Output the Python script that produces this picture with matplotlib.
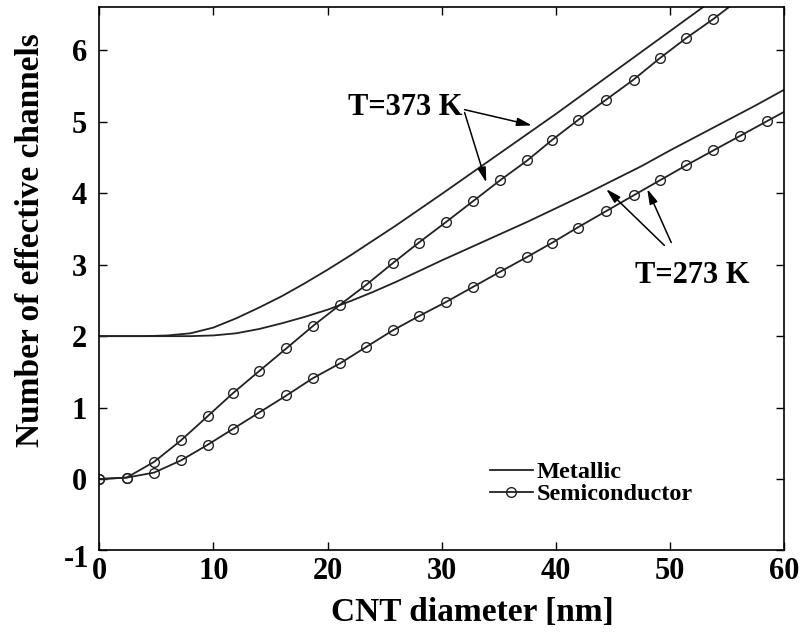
import matplotlib
matplotlib.use("Agg")
import matplotlib.pyplot as plt

# CNT diameter (nm) for the semiconducting samples
semi_d = [0, 2.4, 4.8, 7.15, 9.5, 11.7, 14.0, 16.4, 18.7, 21.1, 23.4, 25.7, 28.0,
          30.4, 32.75, 35.1, 37.5, 39.7, 41.9, 44.4, 46.8, 49.1, 51.4, 53.8,
          56.1, 58.5, 60.8]
semi_373 = [0, 0.02, 0.24, 0.54, 0.88, 1.20, 1.51, 1.83, 2.14, 2.44, 2.72, 3.02,
            3.31, 3.60, 3.89, 4.18, 4.46, 4.75, 5.02, 5.31, 5.59, 5.89, 6.17,
            6.44, 6.72, 7.00, 7.28]
semi_273 = [0, 0.02, 0.09, 0.26, 0.48, 0.70, 0.93, 1.17, 1.41, 1.62, 1.85, 2.08,
            2.28, 2.48, 2.69, 2.90, 3.11, 3.31, 3.52, 3.75, 3.97, 4.18, 4.39,
            4.60, 4.80, 5.01, 5.21]

# Metallic tubes
met_d = [0, 4, 6, 8, 10, 12, 14, 16, 18, 20, 22, 24, 26, 28, 30, 32.5, 35,
         37.5, 40, 42.5, 45, 47.5, 50, 52.5, 55, 57.5, 60]
met_373 = [2.0, 2.0, 2.01, 2.04, 2.12, 2.25, 2.40, 2.56, 2.74, 2.93, 3.13, 3.34,
           3.55, 3.77, 3.99, 4.27, 4.55, 4.83, 5.11, 5.40, 5.69, 5.98, 6.27,
           6.56, 6.85, 7.14, 7.43]
met_273 = [2.0, 2.0, 2.0, 2.0, 2.01, 2.04, 2.10, 2.18, 2.27, 2.37, 2.49, 2.62,
           2.76, 2.91, 3.06, 3.24, 3.42, 3.60, 3.79, 3.98, 4.18, 4.38, 4.60,
           4.81, 5.02, 5.23, 5.45]

x_ticks = [0, 10, 20, 30, 40, 50, 60]
y_ticks = [-1, 0, 1, 2, 3, 4, 5, 6]
y_tick_labels = ['', '0', '1', '2', '3', '4', '5', '6']

plt.rcParams['font.family'] = ['Liberation Serif', 'DejaVu Serif']
plt.rcParams['font.weight'] = 'bold'

fig = plt.figure(figsize=(8.07, 6.35), dpi=100)
ax = fig.add_axes([0.1230, 0.1331, 0.8488, 0.8551])

lc = '#222222'
ax.plot(met_d, met_373, color=lc, lw=1.3, label='Metallic')
ax.plot(met_d, met_273, color=lc, lw=1.3)
ax.plot(semi_d, semi_373, color=lc, lw=1.3, marker='o', ms=7,
        mfc='none', mec=lc, mew=1.0, label='Semiconductor')
ax.plot(semi_d, semi_273, color=lc, lw=1.3, marker='o', ms=7,
        mfc='none', mec=lc, mew=1.0)

ax.set_xlim(0, 60)
ax.set_ylim(-1, 6.6)
ax.set_xticks(x_ticks)
ax.set_yticks(y_ticks)
ax.set_yticklabels(y_tick_labels)
ax.tick_params(direction='in', length=6, width=1, top=True, right=True,
               labelsize=22)
ax.tick_params(axis='x', pad=5)
ax.tick_params(axis='y', pad=9)
for lab in ax.get_xticklabels() + ax.get_yticklabels():
    lab.set_fontweight('bold')
for s in ax.spines.values():
    s.set_linewidth(1.2)
# lowest y label sits a little below its tick, next to the x origin
ax.text(-0.015, -0.016, '-1', transform=ax.transAxes, fontsize=22,
        fontweight='bold', ha='right', va='center')

ax.set_xlabel('CNT diameter [nm]', fontsize=24, fontweight='bold')
ax.xaxis.set_label_coords(0.544, -0.085)
ax.set_ylabel('Number of effective channels', fontsize=24, fontweight='bold')
ax.yaxis.set_label_coords(-0.078, 0.572)

arrow = dict(arrowstyle='-|>,head_length=0.9,head_width=0.25', color='black',
             lw=1.1, shrinkA=0, shrinkB=0)
ax.text(31.8, 5.2, 'T=373 K', fontsize=22, fontweight='bold', ha='right',
        va='center')
ax.annotate('', xy=(37.9, 4.95), xytext=(32.0, 5.17), arrowprops=arrow)
ax.annotate('', xy=(33.9, 4.15), xytext=(32.0, 5.13), arrowprops=arrow)

ax.text(51.9, 2.85, 'T=273 K', fontsize=22, fontweight='bold', ha='center',
        va='center')
ax.annotate('', xy=(44.4, 4.06), xytext=(49.5, 3.27), arrowprops=arrow)
ax.annotate('', xy=(48.0, 4.06), xytext=(50.1, 3.31), arrowprops=arrow)

leg = ax.legend(loc='lower left', bbox_to_anchor=(0.570, 0.083), frameon=False,
                fontsize=17.5, handlelength=1.77, handletextpad=0.16,
                labelspacing=0.0, borderpad=0, borderaxespad=0)
for t in leg.get_texts():
    t.set_fontweight('bold')

fig.savefig('out.png', dpi=100)
